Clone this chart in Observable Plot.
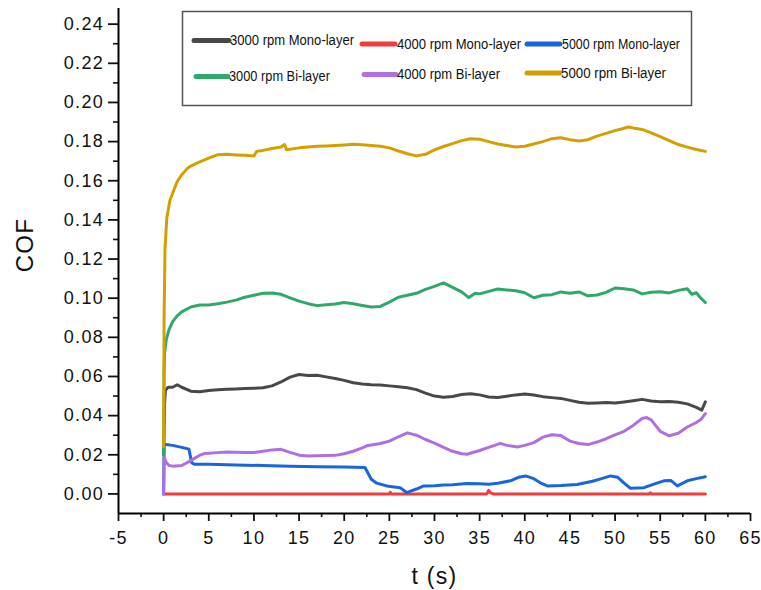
<!DOCTYPE html>
<html>
<head>
<meta charset="utf-8">
<script src="https://cdn.jsdelivr.net/npm/d3@7"></script>
<script src="https://cdn.jsdelivr.net/npm/@observablehq/plot@0.6"></script>
<style>
  html, body { margin: 0; padding: 0; background: #fff; }
  #wrap { position: relative; width: 761px; height: 590px; }
  #legend { position: absolute; left: 0; top: 0; pointer-events: none; }
</style>
</head>
<body>
<div id="wrap"></div>
<script>
// ---- data (t in s, COF) ----
const seriesNames = ["3000 rpm Mono-layer", "4000 rpm Mono-layer", "5000 rpm Mono-layer",
                     "3000 rpm Bi-layer", "4000 rpm Bi-layer", "5000 rpm Bi-layer"];
const seriesColors = ["#484848", "#f23c3c", "#1766dc", "#2ea96a", "#b06fe0", "#d4a000"];

const mono3000 = [[0,0.02],[0.1,0.046],[0.2,0.053],[0.5,0.0545],[1,0.0545],[1.5,0.0558],[2,0.0545],[3,0.0525],[4,0.0522],[5,0.0528],[6,0.0532],[7,0.0535],[8,0.0536],[9,0.0538],[10,0.054],[11,0.0542],[12,0.0552],[13,0.0572],[14,0.0597],[15,0.061],[16,0.0605],[17,0.0606],[18,0.0598],[19,0.059],[20,0.058],[21,0.0568],[22,0.0562],[23,0.0558],[24,0.0556],[25,0.0552],[26,0.0548],[27,0.0542],[28,0.0533],[29,0.0515],[30,0.05],[31,0.0494],[32,0.0498],[33,0.0508],[34,0.0512],[35,0.0506],[36,0.0495],[37,0.0493],[38,0.0499],[39,0.0506],[40,0.051],[41,0.0505],[42,0.0497],[43,0.0492],[44,0.0488],[45,0.0478],[46,0.0468],[47,0.0463],[48,0.0465],[49,0.0467],[50,0.0464],[51,0.047],[52,0.0476],[53,0.0483],[54,0.0475],[55,0.0471],[56,0.0472],[57,0.0468],[58,0.046],[59,0.0442],[59.6,0.0428],[60,0.047]];

const mono4000 = [[0,0],[25,0],[25.1,0.0008],[25.2,0],[35.8,0],[36,0.0018],[36.2,0.0005],[36.5,0],[53.8,0],[53.9,0.0006],[54,0],[60,0]];

const mono5000 = [[0,0],[0.05,0.0254],[1,0.0248],[2,0.0238],[2.8,0.0229],[3.1,0.016],[3.4,0.0152],[5,0.0151],[8,0.0148],[11,0.0145],[14,0.0142],[17,0.0139],[20,0.0137],[22.3,0.0135],[23,0.0075],[23.6,0.0055],[24.7,0.0041],[26.2,0.0032],[26.9,0.0007],[28,0.0025],[28.8,0.0041],[30,0.0042],[31,0.0045],[32,0.0047],[33.6,0.0053],[35,0.0052],[36,0.005],[37,0.0055],[38.4,0.0067],[39.3,0.0085],[40.1,0.0092],[41,0.0078],[41.8,0.0055],[42.5,0.0041],[44,0.0043],[45.8,0.0048],[47.5,0.0065],[48.5,0.0078],[49.5,0.0092],[50.3,0.0085],[51,0.0055],[51.7,0.0029],[53.2,0.0032],[54.3,0.005],[55.4,0.0067],[56.2,0.0068],[56.9,0.0041],[58,0.0067],[59,0.0078],[60,0.0088]];

const bi3000 = [[0,0.02],[0.05,0.062],[0.1,0.072],[0.3,0.079],[0.6,0.084],[1,0.088],[1.5,0.091],[2,0.093],[3,0.0955],[4,0.0965],[5,0.0965],[6,0.0972],[7,0.098],[8,0.099],[9,0.1005],[10,0.1015],[11,0.1025],[12,0.1027],[13,0.102],[14,0.1002],[15,0.0985],[16,0.0972],[17,0.0962],[18,0.0967],[19,0.097],[20,0.0978],[21,0.0972],[22,0.0963],[23,0.0955],[24,0.0958],[25,0.098],[26,0.1005],[27,0.1015],[28,0.1025],[29,0.1045],[30,0.106],[31,0.1078],[32,0.1055],[33,0.1032],[33.8,0.1003],[34.5,0.1025],[35,0.1022],[36,0.1035],[37,0.1047],[38,0.1042],[39,0.1038],[40,0.1028],[41,0.1002],[42,0.1015],[43,0.1018],[44,0.1032],[45,0.1025],[46,0.1032],[47,0.1012],[48,0.1016],[49,0.103],[50,0.1052],[51,0.1048],[52,0.1042],[53,0.1022],[54,0.103],[55,0.1033],[56,0.1027],[57,0.104],[58,0.1048],[58.5,0.102],[59,0.1028],[59.5,0.1],[60,0.0978]];

const bi4000 = [[0,0],[0.05,0.0186],[0.3,0.016],[0.6,0.0145],[1,0.0142],[2,0.0145],[3,0.017],[4,0.0198],[4.5,0.0206],[5,0.0208],[6,0.0211],[7,0.0214],[8,0.0213],[9,0.0212],[10,0.0212],[11,0.0218],[12,0.0225],[13,0.0228],[14,0.0212],[15,0.0198],[16,0.0194],[17,0.0195],[18,0.0196],[19,0.0197],[20,0.0205],[21,0.0218],[22,0.0235],[22.5,0.0246],[24,0.0258],[25,0.027],[26,0.0292],[27,0.0312],[28,0.03],[29,0.0278],[30,0.026],[31,0.0238],[32,0.0218],[33,0.0205],[33.6,0.0203],[35,0.0222],[36,0.0238],[37.3,0.0258],[38,0.0248],[39.2,0.024],[40,0.0248],[41,0.0262],[42,0.029],[43,0.0302],[44,0.0298],[45,0.027],[46,0.0258],[47,0.0252],[48,0.0265],[49,0.0282],[50,0.0302],[51,0.032],[52,0.035],[53,0.0385],[53.5,0.039],[54,0.0378],[55,0.032],[56,0.0297],[57,0.031],[58,0.0342],[59,0.0365],[59.5,0.038],[60,0.041]];

const bi5000 = [[0,0.024],[0.05,0.09],[0.15,0.125],[0.35,0.141],[0.7,0.15],[1.2,0.156],[1.5,0.1595],[1.7,0.161],[2,0.163],[2.6,0.1662],[3,0.1675],[4,0.1696],[5,0.1715],[6,0.1733],[7,0.1735],[8,0.1732],[9,0.173],[10,0.1726],[10.3,0.175],[11,0.1755],[12,0.1765],[13,0.1772],[13.4,0.1785],[13.6,0.1758],[15,0.1768],[16,0.1773],[17,0.1776],[18,0.1778],[19,0.178],[20,0.1783],[21,0.1786],[22,0.1784],[23,0.178],[24,0.1776],[25,0.1768],[26,0.1752],[27,0.1738],[28,0.1727],[29,0.1735],[30,0.1758],[31,0.1775],[32,0.179],[33,0.1805],[34,0.1815],[35,0.1812],[36,0.18],[37,0.1788],[38,0.178],[39,0.1772],[40,0.1776],[41,0.1788],[42,0.18],[43,0.1815],[44,0.182],[45,0.181],[46,0.1803],[47,0.181],[48,0.1828],[49,0.1842],[50,0.1856],[51,0.1868],[51.5,0.1875],[52,0.187],[53,0.1862],[54,0.1845],[55,0.1825],[56,0.1805],[57,0.1785],[58,0.1772],[59,0.176],[60,0.175]];

const allSeries = [mono3000, mono4000, mono5000, bi3000, bi4000, bi5000];

const xMajorTicks = [-5, 0, 5, 10, 15, 20, 25, 30, 35, 40, 45, 50, 55, 60, 65];
const xMinorTicks = [-2.5, 2.5, 7.5, 12.5, 17.5, 22.5, 27.5, 32.5, 37.5, 42.5, 47.5, 52.5, 57.5, 62.5];
const yMajorTicks = [0, 0.02, 0.04, 0.06, 0.08, 0.10, 0.12, 0.14, 0.16, 0.18, 0.20, 0.22, 0.24];
const yMinorTicks = [0.01, 0.03, 0.05, 0.07, 0.09, 0.11, 0.13, 0.15, 0.17, 0.19, 0.21, 0.23];
const xLabel = "t (s)";
const yLabel = "COF";

// ---- chart ----
const lineMarks = allSeries.map((s, i) =>
  Plot.line(s, {x: d => d[0], y: d => d[1], stroke: seriesColors[i], strokeWidth: 3,
                strokeLinejoin: "round", strokeLinecap: "round"}));

const chart = Plot.plot({
  width: 761, height: 590,
  marginLeft: 118, marginRight: 11, marginTop: 8, marginBottom: 77,
  x: {domain: [-5, 65]},
  y: {domain: [-0.01, 0.248]},
  style: {fontFamily: "'Liberation Sans', Arial, sans-serif", fontSize: "18px", color: "#111",
          background: "#fff", overflow: "visible", letterSpacing: "1.3px"},
  marks: [
    ...lineMarks,
    Plot.axisY(yMajorTicks, {tickSize: 10, tickPadding: 4.5, strokeWidth: 1.8, label: null, fontSize: 18,
                             tickFormat: d => d.toFixed(2)}),
    Plot.axisY(yMinorTicks, {tickSize: 5, strokeWidth: 1.6, label: null, tickFormat: () => ""}),
    Plot.axisX(xMajorTicks, {tickSize: 8, tickPadding: 10, strokeWidth: 1.8, label: null, fontSize: 18,
                             tickFormat: d => String(d)}),
    Plot.axisX(xMinorTicks, {tickSize: 4, strokeWidth: 1.6, label: null, tickFormat: () => ""}),
    Plot.ruleX([-5], {strokeWidth: 2, stroke: "#000"}),
    Plot.ruleY([-0.01], {strokeWidth: 2, stroke: "#000"}),
    Plot.text([xLabel], {frameAnchor: "bottom", dy: 63, fontSize: 23, text: d => d,
                         textAnchor: "middle", lineAnchor: "middle", fill: "#111"}),
    Plot.text([yLabel], {frameAnchor: "left", dx: -93, dy: -16, rotate: -90, fontSize: 24, text: d => d,
                         textAnchor: "middle", lineAnchor: "middle", fill: "#111"})
  ]
});
document.getElementById("wrap").appendChild(chart);

// ---- legend overlay ----
const legendPos = [
  {sx: 194, ex: 229, tx: 230, y: 40.5, w: 124},
  {sx: 362, ex: 395, tx: 397, y: 44, w: 124},
  {sx: 527, ex: 560, tx: 562, y: 44, w: 118},
  {sx: 196, ex: 228, tx: 229, y: 76.5, w: 101},
  {sx: 364, ex: 396, tx: 397, y: 74.5, w: 103},
  {sx: 527, ex: 560, tx: 561, y: 73, w: 105}
];
const svg = d3.select("#wrap").append("svg")
  .attr("id", "legend").attr("width", 761).attr("height", 590);
svg.append("rect").attr("x", 182.5).attr("y", 11.5).attr("width", 509).attr("height", 94)
  .attr("fill", "#fff").attr("stroke", "#555").attr("stroke-width", 1.5);
seriesNames.forEach((name, i) => {
  const p = legendPos[i];
  svg.append("line").attr("x1", p.sx).attr("x2", p.ex).attr("y1", p.y).attr("y2", p.y)
    .attr("stroke", seriesColors[i]).attr("stroke-width", 5).attr("stroke-linecap", "round");
  svg.append("text").attr("x", p.tx).attr("y", p.y).attr("dy", "0.35em")
    .attr("font-family", "'Liberation Sans', Arial, sans-serif").attr("font-size", 14)
    .attr("textLength", p.w).attr("lengthAdjust", "spacingAndGlyphs")
    .attr("fill", "#111").text(name);
});
</script>
</body>
</html>
